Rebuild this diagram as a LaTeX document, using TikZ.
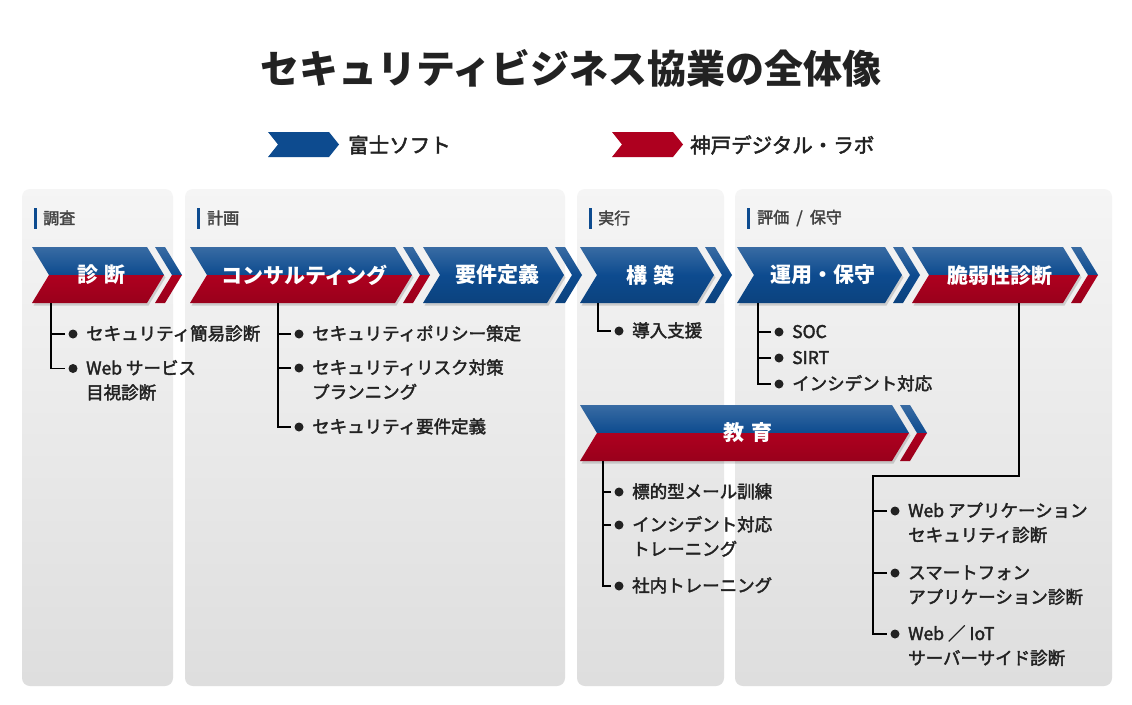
\documentclass[tikz,border=0pt]{standalone}
\usepackage{fontspec}
\setmainfont{Noto Sans CJK JP}
\newfontfamily\medium{Noto Sans CJK JP}[FakeBold=2.2]
\usetikzlibrary{positioning}
\definecolor{fujiblue}{HTML}{0D4B8F}
\definecolor{kobered}{HTML}{AE001F}
\definecolor{ink}{HTML}{222222}
\tikzset{
	panel/.style = {
		top color = black!4,
		bottom color = black!13,
		rounded corners = 8pt
	},
	phase/.style = {
		anchor = west,
		inner sep = 0pt,
		text = ink!85!white,
		font = \medium\fontsize{16}{16}\selectfont
	},
	chevlabel/.style = {
		text = white,
		inner sep = 0pt,
		font = \bfseries\fontsize{21}{21}\selectfont
	},
	item/.style = {
		anchor = base west,
		inner sep = 0pt,
		align = left,
		text = ink,
		font = \medium\fontsize{17.5}{24.5}\selectfont
	},
	legend/.style = {
		anchor = west,
		inner sep = 0pt,
		text = ink,
		font = \medium\fontsize{20.5}{20.5}\selectfont
	},
	link/.style = {
		draw = black,
		line width = 1.3pt
	}
}
% chevron: name, x left, x right, y top, y bottom, upper colour, lower colour, text
\newcommand\chevron[8]{%
	\pgfmathsetmacro\chevmid{(#4+#5)/2}
	\fill [black, opacity = .15, xshift = 1.5pt, yshift = -2.5pt] (#2,#4) -- (#3,#4) -- ({#3+17},\chevmid) -- (#3,#5) -- (#2,#5) -- ({#2+17},\chevmid) -- cycle ;
	\shade [top color = #6!82!white, bottom color = #6] (#2,#4) -- (#3,#4) -- ({#3+17},\chevmid) -- ({#2+17},\chevmid) -- cycle ;
	\shade [top color = #7, bottom color = #7!88!black] ({#2+17},\chevmid) -- ({#3+17},\chevmid) -- (#3,#5) -- (#2,#5) -- cycle ;
	\shade [top color = #6!82!white, bottom color = #6] ({#3+8},#4) -- ({#3+18},#4) -- ({#3+35},\chevmid) -- ({#3+25},\chevmid) -- cycle ;
	\shade [top color = #7, bottom color = #7!88!black] ({#3+25},\chevmid) -- ({#3+35},\chevmid) -- ({#3+18},#5) -- ({#3+8},#5) -- cycle ;
	\node [chevlabel, minimum width = #3-#2, minimum height = #5-#4] (#1) at ({(#2+#3)/2+12},\chevmid) {#8} ;
}

\begin{document}
\begin{tikzpicture}[x = 1pt, y = -1pt]
    \useasboundingbox (0,0) rectangle (1132,704) ;
    \fill [white] (0,0) rectangle (1132,704) ;

    \node [font = \bfseries\fontsize{39}{39}\selectfont, text = ink] (title) at (571,68) {セキュリティビジネス協業の全体像} ;

    % legend
    \fill [fujiblue] (268,132) -- (329,132) -- (339,144.5) -- (329,157) -- (268,157) -- (278,144.5) -- cycle ;
    \node [legend] (fuji) at (348,145) {富士ソフト} ;
    \fill [kobered] (612,132) -- (673,132) -- (683,144.5) -- (673,157) -- (612,157) -- (622,144.5) -- cycle ;
    \node [legend] (kobe) at (690,145) {神戸デジタル・ラボ} ;

    % phases
    \shade [panel] (22,189) rectangle (173,686) ;
    \shade [panel] (185,189) rectangle (565,686) ;
    \shade [panel] (577,189) rectangle (724,686) ;
    \shade [panel] (735,189) rectangle (1112,686) ;
    \fill [fujiblue] (34,208) rectangle (37,229) ;
    \node [phase] (chosa) at (43,218) {調査} ;
    \fill [fujiblue] (197,208) rectangle (200,229) ;
    \node [phase] (keikaku) at (207,218) {計画} ;
    \fill [fujiblue] (589,208) rectangle (592,229) ;
    \node [phase] (jikko) at (598,218) {実行} ;
    \fill [fujiblue] (747,208) rectangle (750,229) ;
    \node [phase] (hyoka) at (757,218) {評価\hspace{0.45em}/\hspace{0.45em}保守} ;

    \chevron{shindan}{32}{147}{247}{303}{fujiblue}{kobered}{診\hspace{0.3em}断}
    \chevron{consul}{190}{395}{247}{303}{fujiblue}{kobered}{コンサルティング}
    \chevron{yoken}{423}{547}{247}{303}{fujiblue}{fujiblue}{要件定義}
    \chevron{kochiku}{580}{697}{247}{303}{fujiblue}{fujiblue}{構\hspace{0.3em}築}
    \chevron{unyo}{737}{885}{247}{303}{fujiblue}{fujiblue}{運用・保守}
    \chevron{zei}{912}{1063}{247}{303}{fujiblue}{kobered}{脆弱性診断}
    \chevron{kyoiku}{580}{892}{405}{461}{fujiblue}{kobered}{教\hspace{0.3em}育}

    % items (base of the last line)
    \node [item] (i11) at (86,340) {セキュリティ簡易診断} ;
    \node [item] (i12) at (86,399) {Web サービス\\目視診断} ;
    \node [item] (i21) at (312,340) {セキュリティポリシー策定} ;
    \node [item] (i22) at (312,398.5) {セキュリティリスク対策\\プランニング} ;
    \node [item] (i23) at (312,433) {セキュリティ要件定義} ;
    \node [item] (i31) at (632,337) {導入支援} ;
    \node [item] (i41) at (792,338) {SOC} ;
    \node [item] (i42) at (792,364) {SIRT} ;
    \node [item] (i43) at (792,390) {インシデント対応} ;
    \node [item] (i51) at (632,498) {標的型メール訓練} ;
    \node [item] (i52) at (632,555.5) {インシデント対応\\トレーニング} ;
    \node [item] (i53) at (632,592) {社内トレーニング} ;
    \node [item] (i61) at (908,541.5) {Web アプリケーション\\セキュリティ診断} ;
    \node [item] (i62) at (908,603.5) {スマートフォン\\アプリケーション診断} ;
    \node [item] (i63) at (908,664.5) {Web ／ IoT\\サーバーサイド診断} ;

    % connectors
    \coordinate (shindanline) at (51,0) ;
    \coordinate (consulline) at (278,0) ;
    \coordinate (kochikuline) at (598,0) ;
    \coordinate (unyoline) at (758,0) ;
    \coordinate (kyoikuline) at (603,0) ;
    \coordinate (zeiline) at (1019,0) ;
    \coordinate (zeiturn) at (873,476) ;

    \draw [link] (shindan.south -| shindanline) |- ([xshift = -21pt, yshift = 30.5pt]i12.base west) ;
    \draw [link] ([xshift = -21pt, yshift = 6pt]i11.base west) -- ++(-14,0) ;

    \draw [link] (consul.south -| consulline) |- ([xshift = -21pt, yshift = 6pt]i23.base west) ;
    \draw [link] ([xshift = -21pt, yshift = 6pt]i21.base west) -- ++(-13,0) ;
    \draw [link] ([xshift = -21pt, yshift = 30.5pt]i22.base west) -- ++(-13,0) ;

    \draw [link] (kochiku.south -| kochikuline) |- ([xshift = -21pt, yshift = 6pt]i31.base west) ;

    \draw [link] (unyo.south -| unyoline) |- ([xshift = -21pt, yshift = 6pt]i43.base west) ;
    \draw [link] ([xshift = -21pt, yshift = 6pt]i41.base west) -- ++(-13,0) ;
    \draw [link] ([xshift = -21pt, yshift = 6pt]i42.base west) -- ++(-13,0) ;

    \draw [link] (kyoiku.south -| kyoikuline) |- ([xshift = -21pt, yshift = 6pt]i53.base west) ;
    \draw [link] ([xshift = -21pt, yshift = 6pt]i51.base west) -- ++(-8,0) ;
    \draw [link] ([xshift = -21pt, yshift = 30.5pt]i52.base west) -- ++(-8,0) ;

    \draw [link] (zei.south -| zeiline) |- (zeiturn) |- ([xshift = -21pt, yshift = 30.5pt]i63.base west) ;
    \draw [link] ([xshift = -21pt, yshift = 30.5pt]i61.base west) -- ++(-14,0) ;
    \draw [link] ([xshift = -21pt, yshift = 30.5pt]i62.base west) -- ++(-14,0) ;

    % bullets
    \foreach \i in {i11, i21, i23, i31, i41, i42, i43, i51, i53}
        \fill [ink] ([xshift = -13pt, yshift = 6pt]\i.base west) circle (4.5) ;
    \foreach \i in {i12, i22, i52, i61, i62, i63}
        \fill [ink] ([xshift = -13pt, yshift = 30.5pt]\i.base west) circle (4.5) ;
\end{tikzpicture}
\end{document}
